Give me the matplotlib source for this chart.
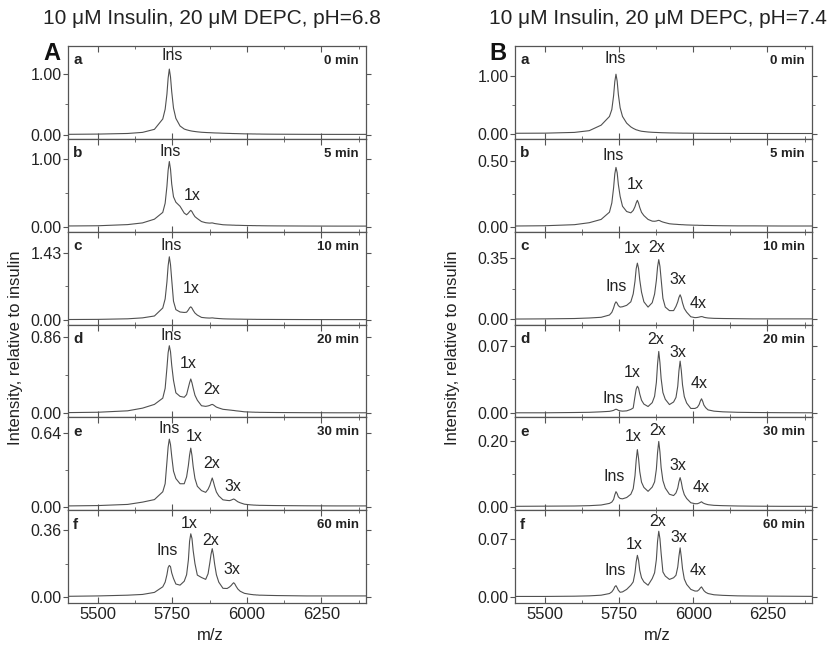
import matplotlib

matplotlib.use("Agg")
import matplotlib.pyplot as plt

plt.rcParams["font.family"] = ["Liberation Sans", "DejaVu Sans"]

# m/z sampling grid shared by all spectra
mz = [
    5400, 5500, 5600, 5650, 5690, 5718, 5726, 5732, 5736, 5740,
    5744, 5748, 5754, 5762, 5776, 5790, 5798, 5804, 5808, 5812,
    5816, 5820, 5826, 5834, 5848, 5862, 5870, 5876, 5880, 5884,
    5888, 5892, 5898, 5906, 5920, 5934, 5942, 5948, 5952, 5956,
    5960, 5964, 5970, 5978, 5992, 6006, 6014, 6020, 6024, 6028,
    6032, 6036, 6042, 6050, 6070, 6100, 6150, 6200, 6300, 6400,
]

# pH 6.8, intensity relative to insulin
ph68_0min = [
    0.008, 0.012, 0.022, 0.040, 0.090, 0.260, 0.420, 0.670, 0.930, 1.080,
    0.950, 0.710, 0.440, 0.270, 0.145, 0.095, 0.082, 0.074, 0.069, 0.065,
    0.061, 0.058, 0.054, 0.049, 0.042, 0.038, 0.036, 0.035, 0.034, 0.033,
    0.032, 0.031, 0.030, 0.029, 0.026, 0.024, 0.023, 0.022, 0.021, 0.021,
    0.020, 0.020, 0.019, 0.018, 0.016, 0.015, 0.015, 0.014, 0.014, 0.014,
    0.013, 0.013, 0.013, 0.012, 0.011, 0.010, 0.009, 0.008, 0.007, 0.007,
]
ph68_5min = [
    0.010, 0.013, 0.030, 0.055, 0.110, 0.210, 0.345, 0.595, 0.830, 0.960,
    0.847, 0.629, 0.440, 0.360, 0.300, 0.200, 0.175, 0.200, 0.222, 0.240,
    0.221, 0.188, 0.147, 0.119, 0.075, 0.058, 0.054, 0.052, 0.054, 0.055,
    0.051, 0.046, 0.042, 0.037, 0.028, 0.025, 0.024, 0.023, 0.022, 0.022,
    0.021, 0.020, 0.020, 0.019, 0.017, 0.016, 0.016, 0.015, 0.015, 0.015,
    0.014, 0.014, 0.014, 0.013, 0.012, 0.011, 0.010, 0.009, 0.008, 0.008,
]
ph68_10min = [
    0.010, 0.013, 0.025, 0.045, 0.085, 0.255, 0.448, 0.810, 1.150, 1.344,
    1.176, 0.860, 0.400, 0.220, 0.170, 0.160, 0.165, 0.214, 0.258, 0.280,
    0.253, 0.205, 0.148, 0.104, 0.055, 0.045, 0.042, 0.041, 0.043, 0.045,
    0.042, 0.038, 0.035, 0.031, 0.025, 0.022, 0.021, 0.020, 0.020, 0.020,
    0.019, 0.019, 0.018, 0.018, 0.016, 0.015, 0.015, 0.014, 0.014, 0.014,
    0.013, 0.013, 0.013, 0.012, 0.012, 0.011, 0.010, 0.009, 0.008, 0.008,
]
ph68_20min = [
    0.008, 0.012, 0.028, 0.058, 0.100, 0.170, 0.280, 0.510, 0.680, 0.758,
    0.690, 0.540, 0.370, 0.230, 0.190, 0.180, 0.210, 0.290, 0.343, 0.385,
    0.342, 0.283, 0.203, 0.147, 0.085, 0.078, 0.083, 0.089, 0.096, 0.100,
    0.094, 0.084, 0.070, 0.060, 0.045, 0.040, 0.037, 0.035, 0.033, 0.032,
    0.030, 0.028, 0.026, 0.023, 0.017, 0.015, 0.014, 0.013, 0.013, 0.012,
    0.012, 0.012, 0.011, 0.011, 0.010, 0.009, 0.008, 0.007, 0.006, 0.006,
]
ph68_30min = [
    0.007, 0.010, 0.020, 0.040, 0.062, 0.130, 0.200, 0.390, 0.520, 0.588,
    0.540, 0.440, 0.310, 0.245, 0.200, 0.200, 0.260, 0.360, 0.450, 0.510,
    0.446, 0.350, 0.246, 0.178, 0.140, 0.125, 0.152, 0.186, 0.219, 0.250,
    0.217, 0.177, 0.128, 0.094, 0.060, 0.055, 0.053, 0.058, 0.063, 0.067,
    0.062, 0.054, 0.043, 0.034, 0.022, 0.018, 0.016, 0.015, 0.014, 0.014,
    0.013, 0.013, 0.012, 0.012, 0.011, 0.010, 0.009, 0.008, 0.007, 0.007,
]
ph68_60min = [
    0.004, 0.006, 0.010, 0.014, 0.025, 0.055, 0.080, 0.120, 0.158, 0.170,
    0.163, 0.130, 0.100, 0.070, 0.064, 0.085, 0.120, 0.200, 0.300, 0.340,
    0.315, 0.250, 0.180, 0.118, 0.105, 0.095, 0.125, 0.185, 0.230, 0.260,
    0.227, 0.178, 0.120, 0.080, 0.047, 0.046, 0.054, 0.063, 0.071, 0.077,
    0.070, 0.058, 0.043, 0.031, 0.020, 0.016, 0.014, 0.013, 0.012, 0.012,
    0.011, 0.011, 0.010, 0.010, 0.009, 0.008, 0.007, 0.006, 0.006, 0.006,
]

# pH 7.4, intensity relative to insulin
ph74_0min = [
    0.010, 0.012, 0.025, 0.055, 0.150, 0.300, 0.420, 0.660, 0.900, 1.030,
    0.910, 0.680, 0.450, 0.300, 0.185, 0.120, 0.095, 0.080, 0.070, 0.065,
    0.058, 0.052, 0.045, 0.040, 0.032, 0.027, 0.025, 0.024, 0.023, 0.022,
    0.021, 0.020, 0.019, 0.018, 0.016, 0.015, 0.014, 0.014, 0.013, 0.013,
    0.013, 0.012, 0.012, 0.012, 0.011, 0.011, 0.010, 0.010, 0.010, 0.010,
    0.010, 0.009, 0.009, 0.009, 0.008, 0.008, 0.007, 0.007, 0.006, 0.006,
]
ph74_5min = [
    0.005, 0.007, 0.015, 0.030, 0.055, 0.110, 0.180, 0.296, 0.400, 0.450,
    0.410, 0.320, 0.230, 0.155, 0.115, 0.105, 0.123, 0.152, 0.180, 0.200,
    0.178, 0.146, 0.109, 0.084, 0.055, 0.042, 0.041, 0.043, 0.046, 0.048,
    0.045, 0.040, 0.035, 0.030, 0.022, 0.019, 0.018, 0.017, 0.016, 0.016,
    0.015, 0.015, 0.014, 0.013, 0.012, 0.011, 0.011, 0.010, 0.010, 0.010,
    0.010, 0.009, 0.009, 0.009, 0.008, 0.007, 0.006, 0.006, 0.005, 0.005,
]
ph74_10min = [
    0.002, 0.003, 0.005, 0.008, 0.012, 0.025, 0.040, 0.065, 0.088, 0.100,
    0.092, 0.078, 0.070, 0.072, 0.080, 0.100, 0.145, 0.217, 0.288, 0.320,
    0.290, 0.225, 0.155, 0.100, 0.070, 0.095, 0.144, 0.222, 0.298, 0.340,
    0.302, 0.229, 0.120, 0.070, 0.050, 0.050, 0.074, 0.100, 0.125, 0.140,
    0.123, 0.094, 0.062, 0.041, 0.015, 0.010, 0.011, 0.013, 0.015, 0.016,
    0.015, 0.012, 0.010, 0.008, 0.006, 0.005, 0.004, 0.003, 0.003, 0.003,
]
ph74_20min = [
    0.0005, 0.0005, 0.0008, 0.0010, 0.0015, 0.0020, 0.0025, 0.0030, 0.0037, 0.0042,
    0.0038, 0.0030, 0.0025, 0.0022, 0.0025, 0.0040, 0.0055, 0.0175, 0.0250, 0.0280,
    0.0260, 0.0200, 0.0135, 0.0095, 0.0070, 0.0110, 0.0176, 0.0320, 0.0510, 0.0640,
    0.0525, 0.0360, 0.0215, 0.0145, 0.0090, 0.0117, 0.0164, 0.0280, 0.0440, 0.0540,
    0.0440, 0.0295, 0.0173, 0.0106, 0.0050, 0.0050, 0.0062, 0.0090, 0.0126, 0.0150,
    0.0123, 0.0085, 0.0058, 0.0035, 0.0022, 0.0015, 0.0010, 0.0008, 0.0006, 0.0005,
]
ph74_30min = [
    0.0010, 0.0015, 0.0020, 0.0030, 0.0050, 0.0100, 0.0140, 0.0220, 0.0360, 0.0460,
    0.0400, 0.0300, 0.0250, 0.0240, 0.0280, 0.0380, 0.0550, 0.0950, 0.1420, 0.1750,
    0.1480, 0.1080, 0.0750, 0.0590, 0.0470, 0.0600, 0.0760, 0.1150, 0.1660, 0.2000,
    0.1680, 0.1200, 0.0800, 0.0570, 0.0380, 0.0340, 0.0420, 0.0570, 0.0760, 0.0890,
    0.0750, 0.0550, 0.0370, 0.0250, 0.0120, 0.0090, 0.0090, 0.0110, 0.0130, 0.0150,
    0.0120, 0.0100, 0.0080, 0.0060, 0.0040, 0.0030, 0.0020, 0.0015, 0.0010, 0.0010,
]
ph74_60min = [
    0.0005, 0.0005, 0.0008, 0.0012, 0.0020, 0.0040, 0.0060, 0.0090, 0.0122, 0.0135,
    0.0110, 0.0080, 0.0055, 0.0060, 0.0090, 0.0140, 0.0180, 0.0290, 0.0420, 0.0500,
    0.0440, 0.0320, 0.0230, 0.0180, 0.0140, 0.0220, 0.0290, 0.0450, 0.0670, 0.0790,
    0.0700, 0.0525, 0.0300, 0.0250, 0.0210, 0.0230, 0.0260, 0.0360, 0.0490, 0.0590,
    0.0480, 0.0340, 0.0215, 0.0150, 0.0090, 0.0070, 0.0070, 0.0087, 0.0107, 0.0120,
    0.0098, 0.0075, 0.0055, 0.0040, 0.0025, 0.0018, 0.0012, 0.0010, 0.0008, 0.0006,
]

times = ["0 min", "5 min", "10 min", "20 min", "30 min", "60 min"]
panel_letters = ["a", "b", "c", "d", "e", "f"]
ph68_tick_top = [1.00, 1.00, 1.43, 0.86, 0.64, 0.36]
ph74_tick_top = [1.00, 0.50, 0.35, 0.07, 0.20, 0.07]
x_ticks = [5500, 5750, 6000, 6250]
x_minor = [5625, 5875, 6125, 6375]

# layout: y ranges and peak annotation placement (text, m/z, y)
ph68_ylim = [(-0.066, 1.459), (-0.074, 1.294), (-0.096, 1.878),
             (-0.045, 0.996), (-0.030, 0.778), (-0.032, 0.467)]
ph74_ylim = [(-0.086, 1.517), (-0.038, 0.667), (-0.029, 0.499),
             (-0.0042, 0.0919), (-0.0108, 0.274), (-0.0074, 0.1044)]
ph68_labels = [
    [("Ins", 5750, 1.295)],
    [("Ins", 5744, 1.10), ("1x", 5816, 0.466)],
    [("Ins", 5745, 1.586), ("1x", 5814, 0.662)],
    [("Ins", 5745, 0.875), ("1x", 5802, 0.555), ("2x", 5881, 0.272)],
    [("Ins", 5739, 0.681), ("1x", 5824, 0.608), ("2x", 5881, 0.38), ("3x", 5953, 0.176)],
    [("Ins", 5733, 0.251), ("1x", 5806, 0.396), ("2x", 5879, 0.302), ("3x", 5950, 0.15)],
]
ph74_labels = [
    [("Ins", 5739, 1.293)],
    [("Ins", 5731, 0.544), ("1x", 5806, 0.318)],
    [("Ins", 5740, 0.185), ("1x", 5795, 0.402), ("2x", 5877, 0.409),
     ("3x", 5949, 0.226), ("4x", 6017, 0.088)],
    [("Ins", 5729, 0.0154), ("1x", 5794, 0.0418), ("2x", 5875, 0.0766),
     ("3x", 5949, 0.0627), ("4x", 6021, 0.0306)],
    [("Ins", 5734, 0.092), ("1x", 5798, 0.216), ("2x", 5881, 0.234),
     ("3x", 5947, 0.125), ("4x", 6027, 0.059)],
    [("Ins", 5737, 0.0323), ("1x", 5800, 0.063), ("2x", 5881, 0.0905),
     ("3x", 5951, 0.0712), ("4x", 6016, 0.0323)],
]

ph68_traces = [ph68_0min, ph68_5min, ph68_10min, ph68_20min, ph68_30min, ph68_60min]
ph74_traces = [ph74_0min, ph74_5min, ph74_10min, ph74_20min, ph74_30min, ph74_60min]

W, H = 833, 645
fig = plt.figure(figsize=(W / 100, H / 100), dpi=100)

LINE = "#505050"
SPINE = "#555555"
TEXT = "#222222"
TOP_PX, BOTTOM_PX = 46, 603
ROW_PX = (BOTTOM_PX - TOP_PX) / 6


def draw_column(left_px, width_px, traces, tick_tops, ylims, labels):
    for i in range(6):
        bottom = 1 - (TOP_PX + (i + 1) * ROW_PX) / H
        ax = fig.add_axes([left_px / W, bottom, width_px / W, ROW_PX / H])
        ax.plot(mz, traces[i], color=LINE, lw=0.8)
        ax.set_xlim(5400, 6400)
        ax.set_ylim(*ylims[i])

        top = tick_tops[i]
        ax.set_yticks([0, top])
        ax.set_yticks([top / 2], minor=True)
        ax.set_yticklabels(["0.00", f"{top:.2f}"])
        ax.set_xticks(x_ticks)
        ax.set_xticks(x_minor, minor=True)
        ax.tick_params(axis="y", which="both", direction="out", left=True, right=True,
                       labelsize=11.5, pad=1, color=SPINE, labelcolor=TEXT)
        ax.tick_params(axis="y", which="major", length=3.5)
        ax.tick_params(axis="y", which="minor", length=2)
        ax.tick_params(axis="x", which="both", direction="in", top=True, bottom=True,
                       labelsize=12, pad=3, color=SPINE, labelcolor=TEXT)
        ax.tick_params(axis="x", which="major", length=4)
        ax.tick_params(axis="x", which="minor", length=2.5)
        if i < 5:
            ax.tick_params(axis="x", labelbottom=False)
        for s in ax.spines.values():
            s.set_color(SPINE)
            s.set_linewidth(0.9)

        ax.text(0.017, 0.921, panel_letters[i], transform=ax.transAxes,
                ha="left", va="top", fontsize=11, fontweight="bold", color=TEXT)
        ax.text(0.9765, 0.903, times[i], transform=ax.transAxes,
                ha="right", va="top", fontsize=9.5, fontweight="bold", color=TEXT)
        for text, x, y in labels[i]:
            ax.text(x, y, text, ha="center", va="center", fontsize=11.5, color=TEXT)


draw_column(68, 298, ph68_traces, ph68_tick_top, ph68_ylim, ph68_labels)
draw_column(515, 297, ph74_traces, ph74_tick_top, ph74_ylim, ph74_labels)

fig.text(212 / W, 1 - 18 / H, "10 \u03bcM Insulin, 20 \u03bcM DEPC, pH=6.8",
         ha="center", va="center", fontsize=15, color=TEXT)
fig.text(658 / W, 1 - 18 / H, "10 \u03bcM Insulin, 20 \u03bcM DEPC, pH=7.4",
         ha="center", va="center", fontsize=15, color=TEXT)
fig.text(52 / W, 1 - 53 / H, "A", ha="center", va="center", fontsize=17,
         fontweight="bold", color="#111111")
fig.text(498 / W, 1 - 53 / H, "B", ha="center", va="center", fontsize=17,
         fontweight="bold", color="#111111")
for x in (16, 452):
    fig.text(x / W, 1 - 348 / H, "Intensity, relative to insulin", rotation=90,
             ha="center", va="center", fontsize=12, color=TEXT)
fig.text(210 / W, 1 - 635 / H, "m/z", ha="center", va="center", fontsize=12, color=TEXT)
fig.text(657 / W, 1 - 635 / H, "m/z", ha="center", va="center", fontsize=12, color=TEXT)

fig.savefig("out.png", dpi=100)
